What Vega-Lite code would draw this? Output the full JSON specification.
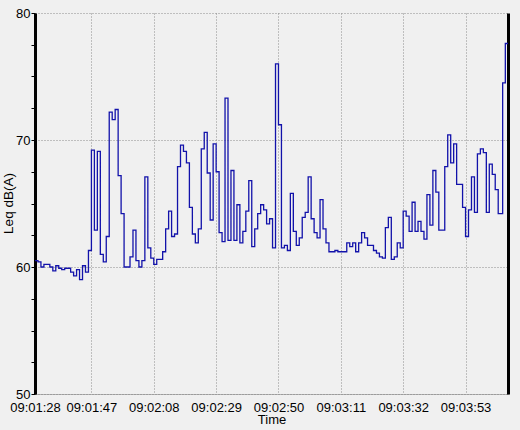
{
  "$schema": "https://vega.github.io/schema/vega-lite/v6.json",
  "width": 473,
  "height": 381,
  "autosize": "none",
  "padding": {"left": 35, "top": 13, "right": 12, "bottom": 36},
  "background": "#f0f0f0",
  "config": {
    "view": {"stroke": null, "fill": "#f0f0f0"},
    "font": "Liberation Sans",
    "axis": {"labelFont": "Liberation Sans", "titleFont": "Liberation Sans", "labelColor": "#000000", "titleColor": "#000000", "titleFontWeight": "normal"}
  },
  "data": {
    "values": [
      {"time": "2024-01-01T09:01:28", "leq": 60.5},
      {"time": "2024-01-01T09:01:29", "leq": 60.4},
      {"time": "2024-01-01T09:01:30", "leq": 60.0},
      {"time": "2024-01-01T09:01:31", "leq": 60.2},
      {"time": "2024-01-01T09:01:32", "leq": 60.2},
      {"time": "2024-01-01T09:01:33", "leq": 60.0},
      {"time": "2024-01-01T09:01:34", "leq": 59.7},
      {"time": "2024-01-01T09:01:35", "leq": 60.1},
      {"time": "2024-01-01T09:01:36", "leq": 59.9},
      {"time": "2024-01-01T09:01:37", "leq": 59.8},
      {"time": "2024-01-01T09:01:38", "leq": 59.9},
      {"time": "2024-01-01T09:01:39", "leq": 59.9},
      {"time": "2024-01-01T09:01:40", "leq": 59.6},
      {"time": "2024-01-01T09:01:41", "leq": 59.3},
      {"time": "2024-01-01T09:01:42", "leq": 59.8},
      {"time": "2024-01-01T09:01:43", "leq": 59.0},
      {"time": "2024-01-01T09:01:44", "leq": 60.1},
      {"time": "2024-01-01T09:01:45", "leq": 59.6},
      {"time": "2024-01-01T09:01:46", "leq": 61.3},
      {"time": "2024-01-01T09:01:47", "leq": 69.2},
      {"time": "2024-01-01T09:01:48", "leq": 62.9},
      {"time": "2024-01-01T09:01:49", "leq": 69.1},
      {"time": "2024-01-01T09:01:50", "leq": 61.0},
      {"time": "2024-01-01T09:01:51", "leq": 60.4},
      {"time": "2024-01-01T09:01:52", "leq": 62.4},
      {"time": "2024-01-01T09:01:53", "leq": 72.2},
      {"time": "2024-01-01T09:01:54", "leq": 71.6},
      {"time": "2024-01-01T09:01:55", "leq": 72.4},
      {"time": "2024-01-01T09:01:56", "leq": 67.2},
      {"time": "2024-01-01T09:01:57", "leq": 64.2},
      {"time": "2024-01-01T09:01:58", "leq": 60.0},
      {"time": "2024-01-01T09:01:59", "leq": 60.0},
      {"time": "2024-01-01T09:02:00", "leq": 60.8},
      {"time": "2024-01-01T09:02:01", "leq": 62.9},
      {"time": "2024-01-01T09:02:02", "leq": 60.5},
      {"time": "2024-01-01T09:02:03", "leq": 60.0},
      {"time": "2024-01-01T09:02:04", "leq": 60.5},
      {"time": "2024-01-01T09:02:05", "leq": 67.1},
      {"time": "2024-01-01T09:02:06", "leq": 61.5},
      {"time": "2024-01-01T09:02:07", "leq": 60.7},
      {"time": "2024-01-01T09:02:08", "leq": 60.2},
      {"time": "2024-01-01T09:02:09", "leq": 60.6},
      {"time": "2024-01-01T09:02:10", "leq": 60.6},
      {"time": "2024-01-01T09:02:11", "leq": 61.2},
      {"time": "2024-01-01T09:02:12", "leq": 63.0},
      {"time": "2024-01-01T09:02:13", "leq": 64.4},
      {"time": "2024-01-01T09:02:14", "leq": 62.4},
      {"time": "2024-01-01T09:02:15", "leq": 62.6},
      {"time": "2024-01-01T09:02:16", "leq": 67.9},
      {"time": "2024-01-01T09:02:17", "leq": 69.6},
      {"time": "2024-01-01T09:02:18", "leq": 69.1},
      {"time": "2024-01-01T09:02:19", "leq": 68.2},
      {"time": "2024-01-01T09:02:20", "leq": 64.7},
      {"time": "2024-01-01T09:02:21", "leq": 62.6},
      {"time": "2024-01-01T09:02:22", "leq": 61.9},
      {"time": "2024-01-01T09:02:23", "leq": 63.0},
      {"time": "2024-01-01T09:02:24", "leq": 69.3},
      {"time": "2024-01-01T09:02:25", "leq": 70.6},
      {"time": "2024-01-01T09:02:26", "leq": 67.4},
      {"time": "2024-01-01T09:02:27", "leq": 63.7},
      {"time": "2024-01-01T09:02:28", "leq": 69.7},
      {"time": "2024-01-01T09:02:29", "leq": 67.5},
      {"time": "2024-01-01T09:02:30", "leq": 62.7},
      {"time": "2024-01-01T09:02:31", "leq": 62.0},
      {"time": "2024-01-01T09:02:32", "leq": 73.3},
      {"time": "2024-01-01T09:02:33", "leq": 62.1},
      {"time": "2024-01-01T09:02:34", "leq": 67.6},
      {"time": "2024-01-01T09:02:35", "leq": 62.1},
      {"time": "2024-01-01T09:02:36", "leq": 64.9},
      {"time": "2024-01-01T09:02:37", "leq": 61.9},
      {"time": "2024-01-01T09:02:38", "leq": 62.8},
      {"time": "2024-01-01T09:02:39", "leq": 64.4},
      {"time": "2024-01-01T09:02:40", "leq": 66.8},
      {"time": "2024-01-01T09:02:41", "leq": 61.6},
      {"time": "2024-01-01T09:02:42", "leq": 63.0},
      {"time": "2024-01-01T09:02:43", "leq": 64.2},
      {"time": "2024-01-01T09:02:44", "leq": 64.9},
      {"time": "2024-01-01T09:02:45", "leq": 64.5},
      {"time": "2024-01-01T09:02:46", "leq": 63.4},
      {"time": "2024-01-01T09:02:47", "leq": 63.8},
      {"time": "2024-01-01T09:02:48", "leq": 61.5},
      {"time": "2024-01-01T09:02:49", "leq": 76.0},
      {"time": "2024-01-01T09:02:50", "leq": 71.2},
      {"time": "2024-01-01T09:02:51", "leq": 61.5},
      {"time": "2024-01-01T09:02:52", "leq": 61.7},
      {"time": "2024-01-01T09:02:53", "leq": 61.3},
      {"time": "2024-01-01T09:02:54", "leq": 65.8},
      {"time": "2024-01-01T09:02:55", "leq": 62.8},
      {"time": "2024-01-01T09:02:56", "leq": 61.7},
      {"time": "2024-01-01T09:02:57", "leq": 62.3},
      {"time": "2024-01-01T09:02:58", "leq": 63.9},
      {"time": "2024-01-01T09:02:59", "leq": 64.3},
      {"time": "2024-01-01T09:03:00", "leq": 67.1},
      {"time": "2024-01-01T09:03:01", "leq": 63.8},
      {"time": "2024-01-01T09:03:02", "leq": 62.7},
      {"time": "2024-01-01T09:03:03", "leq": 62.3},
      {"time": "2024-01-01T09:03:04", "leq": 65.3},
      {"time": "2024-01-01T09:03:05", "leq": 63.0},
      {"time": "2024-01-01T09:03:06", "leq": 61.9},
      {"time": "2024-01-01T09:03:07", "leq": 61.2},
      {"time": "2024-01-01T09:03:08", "leq": 61.2},
      {"time": "2024-01-01T09:03:09", "leq": 61.3},
      {"time": "2024-01-01T09:03:10", "leq": 61.2},
      {"time": "2024-01-01T09:03:11", "leq": 61.2},
      {"time": "2024-01-01T09:03:12", "leq": 61.2},
      {"time": "2024-01-01T09:03:13", "leq": 61.9},
      {"time": "2024-01-01T09:03:14", "leq": 61.6},
      {"time": "2024-01-01T09:03:15", "leq": 61.9},
      {"time": "2024-01-01T09:03:16", "leq": 61.2},
      {"time": "2024-01-01T09:03:17", "leq": 61.9},
      {"time": "2024-01-01T09:03:18", "leq": 62.7},
      {"time": "2024-01-01T09:03:19", "leq": 62.3},
      {"time": "2024-01-01T09:03:20", "leq": 61.7},
      {"time": "2024-01-01T09:03:21", "leq": 61.7},
      {"time": "2024-01-01T09:03:22", "leq": 61.3},
      {"time": "2024-01-01T09:03:23", "leq": 61.1},
      {"time": "2024-01-01T09:03:24", "leq": 60.8},
      {"time": "2024-01-01T09:03:25", "leq": 60.7},
      {"time": "2024-01-01T09:03:26", "leq": 63.1},
      {"time": "2024-01-01T09:03:27", "leq": 63.9},
      {"time": "2024-01-01T09:03:28", "leq": 60.6},
      {"time": "2024-01-01T09:03:29", "leq": 60.8},
      {"time": "2024-01-01T09:03:30", "leq": 61.9},
      {"time": "2024-01-01T09:03:31", "leq": 61.5},
      {"time": "2024-01-01T09:03:32", "leq": 64.4},
      {"time": "2024-01-01T09:03:33", "leq": 64.0},
      {"time": "2024-01-01T09:03:34", "leq": 62.8},
      {"time": "2024-01-01T09:03:35", "leq": 65.1},
      {"time": "2024-01-01T09:03:36", "leq": 62.8},
      {"time": "2024-01-01T09:03:37", "leq": 63.6},
      {"time": "2024-01-01T09:03:38", "leq": 62.8},
      {"time": "2024-01-01T09:03:39", "leq": 62.2},
      {"time": "2024-01-01T09:03:40", "leq": 65.7},
      {"time": "2024-01-01T09:03:41", "leq": 63.3},
      {"time": "2024-01-01T09:03:42", "leq": 67.6},
      {"time": "2024-01-01T09:03:43", "leq": 65.9},
      {"time": "2024-01-01T09:03:44", "leq": 62.9},
      {"time": "2024-01-01T09:03:45", "leq": 62.9},
      {"time": "2024-01-01T09:03:46", "leq": 67.9},
      {"time": "2024-01-01T09:03:47", "leq": 70.4},
      {"time": "2024-01-01T09:03:48", "leq": 68.2},
      {"time": "2024-01-01T09:03:49", "leq": 69.7},
      {"time": "2024-01-01T09:03:50", "leq": 66.5},
      {"time": "2024-01-01T09:03:51", "leq": 66.5},
      {"time": "2024-01-01T09:03:52", "leq": 64.7},
      {"time": "2024-01-01T09:03:53", "leq": 62.4},
      {"time": "2024-01-01T09:03:54", "leq": 64.5},
      {"time": "2024-01-01T09:03:55", "leq": 67.1},
      {"time": "2024-01-01T09:03:56", "leq": 64.3},
      {"time": "2024-01-01T09:03:57", "leq": 68.9},
      {"time": "2024-01-01T09:03:58", "leq": 69.3},
      {"time": "2024-01-01T09:03:59", "leq": 69.0},
      {"time": "2024-01-01T09:04:00", "leq": 64.3},
      {"time": "2024-01-01T09:04:01", "leq": 68.1},
      {"time": "2024-01-01T09:04:02", "leq": 67.3},
      {"time": "2024-01-01T09:04:03", "leq": 66.1},
      {"time": "2024-01-01T09:04:04", "leq": 64.2},
      {"time": "2024-01-01T09:04:05", "leq": 64.2},
      {"time": "2024-01-01T09:04:05.500", "leq": 74.5},
      {"time": "2024-01-01T09:04:06.400", "leq": 77.6},
      {"time": "2024-01-01T09:04:07.300", "leq": 77.6}
    ]
  },
  "encoding": {
    "x": {
      "field": "time",
      "type": "temporal",
      "scale": {
        "domain": [
          {"year": 2024, "month": 1, "date": 1, "hours": 9, "minutes": 1, "seconds": 28},
          {"year": 2024, "month": 1, "date": 1, "hours": 9, "minutes": 4, "seconds": 7, "milliseconds": 300}
        ],
        "nice": false
      },
      "axis": {
        "title": "Time",
        "titleFontSize": 13,
        "titleBaseline": "alphabetic",
        "titleY": 29,
        "format": "%H:%M:%S",
        "values": [
          {"year": 2024, "month": 1, "date": 1, "hours": 9, "minutes": 1, "seconds": 28},
          {"year": 2024, "month": 1, "date": 1, "hours": 9, "minutes": 1, "seconds": 47},
          {"year": 2024, "month": 1, "date": 1, "hours": 9, "minutes": 2, "seconds": 8},
          {"year": 2024, "month": 1, "date": 1, "hours": 9, "minutes": 2, "seconds": 29},
          {"year": 2024, "month": 1, "date": 1, "hours": 9, "minutes": 2, "seconds": 50},
          {"year": 2024, "month": 1, "date": 1, "hours": 9, "minutes": 3, "seconds": 11},
          {"year": 2024, "month": 1, "date": 1, "hours": 9, "minutes": 3, "seconds": 32},
          {"year": 2024, "month": 1, "date": 1, "hours": 9, "minutes": 3, "seconds": 53}
        ],
        "labelFontSize": 13,
        "labelPadding": 7,
        "labelFlush": false,
        "labelOverlap": false,
        "ticks": false,
        "tickSize": 0,
        "grid": true,
        "gridColor": "#8c8c8c",
        "gridDash": [1, 2],
        "gridWidth": 1,
        "domainColor": "#7a7a7a",
        "domainDash": [1, 1],
        "domainWidth": 1
      }
    }
  },
  "layer": [
    {
      "mark": {"type": "line", "interpolate": "step-after", "color": "#1212aa", "strokeWidth": 1.3},
      "encoding": {
        "y": {
          "field": "leq",
          "type": "quantitative",
          "scale": {"domain": [50, 80], "nice": false, "zero": false},
          "axis": {
            "title": "Leq dB(A)",
            "titleFontSize": 13.5,
            "titleAngle": -90,
            "titleBaseline": "alphabetic",
            "titleAlign": "center",
            "titleX": -23,
            "titleY": 190,
            "values": [50, 52.5, 55, 57.5, 60, 62.5, 65, 67.5, 70, 72.5, 75, 77.5, 80],
            "labelExpr": "datum.value % 10 === 0 ? datum.label : ''",
            "labelFontSize": 13,
            "labelPadding": 1,
            "tickSize": 4,
            "tickColor": "#000000",
            "tickWidth": 1,
            "grid": true,
            "gridColor": "#8c8c8c",
            "gridDash": [1, 2],
            "gridOpacity": {"condition": {"test": "datum.value % 10 !== 0", "value": 0}, "value": 1},
            "domainColor": "#000000",
            "domainWidth": 3
          }
        }
      }
    },
    {
      "mark": {"type": "line", "interpolate": "step-after", "strokeOpacity": 0},
      "encoding": {
        "y": {
          "field": "leq",
          "type": "quantitative",
          "scale": {"domain": [50, 80], "nice": false, "zero": false},
          "axis": {
            "orient": "right",
            "title": null,
            "labels": false,
            "ticks": false,
            "grid": false,
            "domainColor": "#000000",
            "domainWidth": 3
          }
        }
      }
    }
  ],
  "resolve": {"axis": {"y": "independent"}}
}
